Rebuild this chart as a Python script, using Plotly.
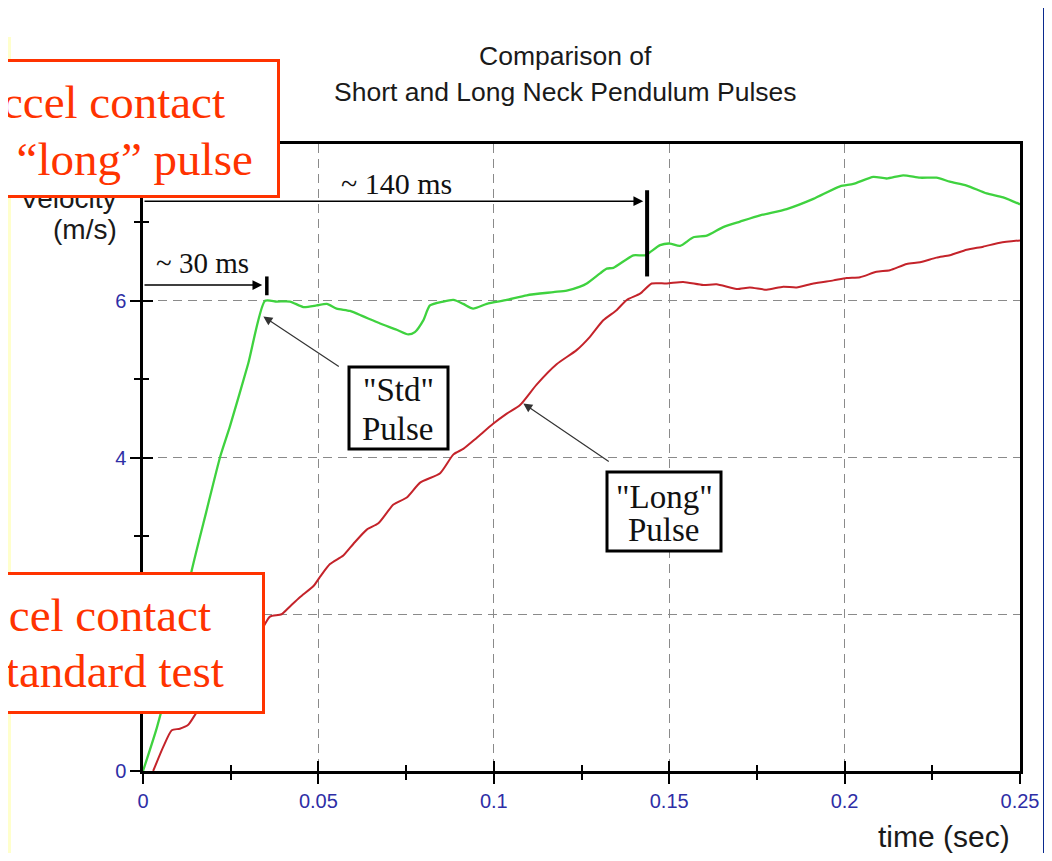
import plotly.graph_objects as go

# "Std" pulse (green): time in s, velocity in m/s
std_time = [0, .0040, .0080, .0139, .0180, .0220, .0248, .0300, .0348, .0381,
            .0419, .0457, .0495, .0524, .0552, .0590, .0628, .0676, .0723, .0756,
            .0775, .0799, .0818, .0856, .0885, .0913, .0941, .0980, .1037, .1094,
            .1170, .1208, .1246, .1265, .1303, .1322, .1341, .1398, .1431, .1474,
            .1502, .1531, .1569, .1607, .1654, .1702, .1759, .1835, .1911, .1987,
            .2025, .2082, .2120, .2167, .2215, .2262, .2300, .2348, .2405, .2452,
            .2500]
std_vel = [0.00, 0.56, 1.25, 2.56, 3.30, 4.01, 4.40, 5.20, 6.00, 5.99,
           5.99, 5.92, 5.94, 5.96, 5.90, 5.87, 5.80, 5.71, 5.63, 5.57,
           5.60, 5.75, 5.94, 5.99, 6.01, 5.96, 5.90, 5.96, 6.01, 6.07,
           6.11, 6.13, 6.18, 6.22, 6.35, 6.41, 6.42, 6.58, 6.58, 6.71,
           6.73, 6.70, 6.81, 6.83, 6.94, 7.01, 7.09, 7.17, 7.30, 7.46,
           7.49, 7.58, 7.56, 7.60, 7.57, 7.57, 7.52, 7.47, 7.37, 7.32,
           7.23]

# "Long" pulse (red)
long_time = [.0029, .0058, .0082, .0105, .0129, .0153, .0200, .0250, .0300, .0343,
             .0362, .0395, .0419, .0448, .0486, .0505, .0533, .0571, .0600, .0638,
             .0671, .0714, .0752, .0790, .0847, .0885, .0913, .0951, .0998, .1037,
             .1075, .1122, .1179, .1236, .1274, .1312, .1350, .1379, .1417, .1450,
             .1493, .1540, .1597, .1635, .1692, .1730, .1778, .1825, .1863, .1911,
             .1968, .2006, .2044, .2091, .2129, .2177, .2215, .2262, .2300, .2348,
             .2395, .2443, .2500]
long_vel = [0.00, 0.31, 0.52, 0.54, 0.59, 0.75, 1.05, 1.30, 1.55, 1.84,
            1.97, 2.00, 2.10, 2.22, 2.36, 2.48, 2.64, 2.75, 2.90, 3.08,
            3.16, 3.40, 3.49, 3.68, 3.80, 4.04, 4.11, 4.25, 4.43, 4.56,
            4.67, 4.93, 5.19, 5.37, 5.54, 5.75, 5.88, 6.01, 6.09, 6.22,
            6.22, 6.24, 6.20, 6.21, 6.15, 6.17, 6.14, 6.18, 6.17, 6.22,
            6.26, 6.29, 6.30, 6.37, 6.39, 6.47, 6.49, 6.55, 6.58, 6.65,
            6.69, 6.74, 6.77]

x_ticks = [0, 0.05, 0.1, 0.15, 0.2, 0.25]
x_labels = ['0', '0.05', '0.1', '0.15', '0.2', '0.25']
y_ticks = [0, 2, 4, 6, 8]
y_labels = ['0', '2', '4', '6', '8']

title_lines = ['Comparison of', 'Short and Long Neck Pendulum Pulses']

# page is 1052x861; the html body adds an 8px margin, so the figure sits at (8, 8)
OFF = 8
PAGE_W, PAGE_H = 1052, 861
W, H = PAGE_W - OFF, PAGE_H - 2 * OFF
L, R, T, B = 143, 1020, 144, 771   # plot area in page pixels

NAVY = '#0A2A8E'
ORANGE = '#FF3300'
SANS = 'Liberation Sans, Arial, sans-serif'
SERIF = 'Liberation Serif, Times New Roman, serif'
TICKBLUE = '#2E2EA6'


def px(x):
    return (x - L) / (R - L)


def py(y):
    return (B - y) / (B - T)


fig = go.Figure()
fig.add_trace(go.Scatter(x=std_time, y=std_vel, mode='lines',
                         line=dict(color='#3FD23F', width=2.3, shape='spline', smoothing=0.6)))
fig.add_trace(go.Scatter(x=long_time, y=long_vel, mode='lines',
                         line=dict(color='#C4232A', width=2, shape='spline', smoothing=0.6)))
# empty trace so the overlay axes (inside half of the crossing ticks) get drawn
fig.add_trace(go.Scatter(x=[], y=[], xaxis='x2', yaxis='y2'))

grid = dict(showgrid=True, gridcolor='#8a8a8a', gridwidth=1.2, griddash='9px,6px')
tickfont = dict(family=SANS, size=20, color=TICKBLUE)

fig.update_layout(
    width=W, height=H,
    margin=dict(l=L - OFF, r=PAGE_W - R, t=T - OFF, b=OFF + H - B),
    paper_bgcolor='white', plot_bgcolor='white',
    showlegend=False,
    xaxis=dict(range=[0, 0.25], tickvals=x_ticks, ticktext=x_labels, ticks='outside',
               ticklen=10, tickwidth=2, tickcolor='black', tickfont=tickfont,
               showline=True, linecolor='black', linewidth=2.5, mirror=True, zeroline=False,
               minor=dict(dtick=0.025, tick0=0, ticks='outside', ticklen=6, tickwidth=2,
                          tickcolor='black', showgrid=False),
               **grid),
    yaxis=dict(range=[0, 8], tickvals=y_ticks, ticktext=y_labels, ticks='outside',
               ticklen=10, tickwidth=2, tickcolor='black', tickfont=tickfont,
               showline=True, linecolor='black', linewidth=2.5, mirror=True, zeroline=False,
               minor=dict(dtick=1, tick0=0, ticks='outside', ticklen=6, tickwidth=2,
                          tickcolor='black', showgrid=False),
               **grid),
    xaxis2=dict(range=[0, 0.25], overlaying='x', anchor='y2', tickvals=x_ticks, ticks='inside',
                ticklen=10, tickwidth=2, tickcolor='black', showticklabels=False,
                showgrid=False, zeroline=False, showline=False,
                minor=dict(dtick=0.025, tick0=0, ticks='inside', ticklen=6, tickwidth=2,
                           tickcolor='black')),
    yaxis2=dict(range=[0, 8], overlaying='y', anchor='x2', tickvals=y_ticks, ticks='inside',
                ticklen=10, tickwidth=2, tickcolor='black', showticklabels=False,
                showgrid=False, zeroline=False, showline=False,
                minor=dict(dtick=1, tick0=0, ticks='inside', ticklen=6, tickwidth=2,
                           tickcolor='black')),
)

shapes = [
    # slide frame: navy edges and pale yellow strip
    dict(type='rect', xref='paper', yref='paper', x0=px(0), x1=px(PAGE_W + 10), y0=py(-10), y1=py(5),
         fillcolor=NAVY, line_width=0, layer='below'),
    dict(type='rect', xref='paper', yref='paper', x0=px(-10), x1=px(6), y0=py(-10), y1=py(37),
         fillcolor=NAVY, line_width=0, layer='below'),
    dict(type='rect', xref='paper', yref='paper', x0=px(1043), x1=px(PAGE_W + 10), y0=py(-10),
         y1=py(PAGE_H + 10), fillcolor=NAVY, line_width=0, layer='below'),
    dict(type='rect', xref='paper', yref='paper', x0=px(-10), x1=px(11), y0=py(37), y1=py(PAGE_H + 10),
         fillcolor='#FFFFCC', line_width=0, layer='below'),
    # label boxes
    dict(type='rect', xref='paper', yref='paper', x0=px(349), x1=px(448), y0=py(367), y1=py(449),
         fillcolor='white', line=dict(color='black', width=3)),
    dict(type='rect', xref='paper', yref='paper', x0=px(607), x1=px(721), y0=py(472), y1=py(551),
         fillcolor='white', line=dict(color='black', width=3)),
    # end-of-rise markers
    dict(type='line', xref='x', yref='y', x0=0.0353, x1=0.0353, y0=6.07, y1=6.31,
         line=dict(color='black', width=3.5)),
    dict(type='line', xref='x', yref='y', x0=0.1437, x1=0.1437, y0=6.31, y1=7.41,
         line=dict(color='black', width=4)),
]
fig.update_layout(shapes=shapes)

ann = []


def text(x, y, s, size, family=SANS, color='#1a1a1a', xanchor='center'):
    ann.append(dict(x=px(x), y=py(y), xref='paper', yref='paper', text=s, showarrow=False,
                    xanchor=xanchor, yanchor='middle', font=dict(family=family, size=size, color=color)))


def callout(x0, y0, x1, y1):
    # orange-framed white box drawn as an annotation so it sits over earlier texts
    bw = 3
    ann.append(dict(x=px(x0 - bw / 2), y=py(y0 - bw / 2), xref='paper', yref='paper',
                    xanchor='left', yanchor='top', text=' ', showarrow=False,
                    width=x1 - x0 - bw, height=y1 - y0 - bw, bgcolor='white',
                    bordercolor=ORANGE, borderwidth=bw, borderpad=0))


text(565, 56, title_lines[0], 26.5)
text(565, 92, title_lines[1], 26.5)
text(119, 198, 'Velocity', 28, xanchor='right')
text(119, 229, '(m/s)', 28, xanchor='right')
text(944, 836, 'time (sec)', 30)

callout(-20, 61, 278, 197)
text(-34, 102, 'Accel contact', 47, SERIF, ORANGE, 'left')
text(-52, 159, 'for \u201clong\u201d pulse', 47, SERIF, ORANGE, 'left')
callout(-20, 573, 263, 712)
text(-48, 615, 'Accel contact', 47, SERIF, ORANGE, 'left')
text(-81, 671, 'for standard test', 47, SERIF, ORANGE, 'left')

text(398, 390, '"Std"', 33, SERIF, '#111')
text(398, 429, 'Pulse', 33, SERIF, '#111')
text(664, 497, '"Long"', 33, SERIF, '#111')
text(664, 530, 'Pulse', 33, SERIF, '#111')

text(202, 263, '~ 30 ms', 29, SERIF, '#111')
text(396, 183, '~ 140 ms', 30, SERIF, '#111')

# dimension arrows
for y_val, tip in [(6.2, 0.0340), (7.27, 0.1426)]:
    ann.append(dict(x=tip, y=y_val, ax=0, ay=y_val, xref='x', yref='y', axref='x', ayref='y',
                    text='', showarrow=True, arrowhead=2, arrowsize=1.4, arrowwidth=1.4,
                    arrowcolor='black'))
# pointer arrows to the curves
ann.append(dict(x=0.0343, y=5.80, xref='x', yref='y', ax=77, ay=51, text='', showarrow=True,
                arrowhead=2, arrowsize=1.5, arrowwidth=1.2, arrowcolor='#333'))
ann.append(dict(x=0.1084, y=4.69, xref='x', yref='y', ax=87, ay=59, text='', showarrow=True,
                arrowhead=2, arrowsize=1.5, arrowwidth=1.2, arrowcolor='#333'))

fig.update_layout(annotations=ann)
fig.write_html("out.html")
